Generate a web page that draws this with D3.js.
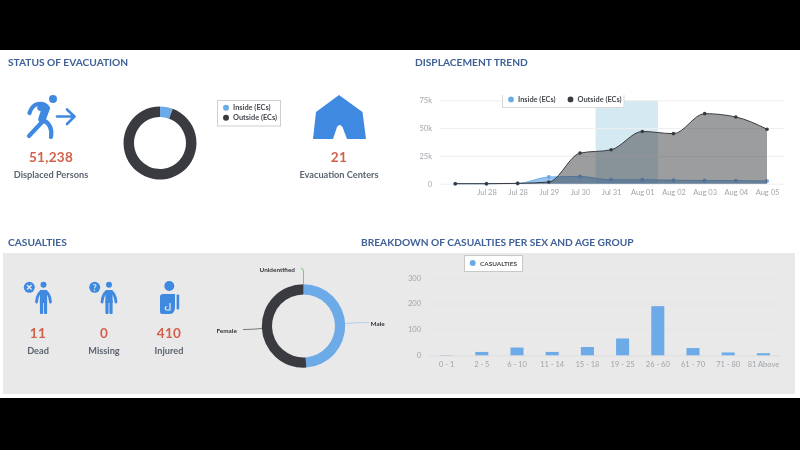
<!DOCTYPE html>
<html>
<head>
<meta charset="utf-8">
<script src="https://cdn.jsdelivr.net/npm/d3@7"></script>
<style>
  html, body { margin: 0; padding: 0; background: #000; }
  svg { display: block; font-family: Lato, "Open Sans", sans-serif; filter: blur(0.4px); }
  .title { fill: #3f6197; font-weight: 700; font-size: 10.2px; }
  .big { fill: #d2604a; font-weight: 700; font-size: 13.5px; text-anchor: middle; letter-spacing: .3px; }
  .sub { fill: #5b6470; font-weight: 700; font-size: 9.2px; text-anchor: middle; }
  .legend { fill: #45484d; font-weight: 700; font-size: 7.4px; }
  .tick text { fill: #a0a5aa; font-size: 7.5px; font-family: Lato, sans-serif; }
  .icon { fill: #3f8ae0; stroke: none; }
  .iconline { fill: none; stroke: #3f8ae0; stroke-linecap: round; stroke-linejoin: round; }
  .pielabel { fill: #33363a; font-weight: 700; font-size: 6.4px; }
</style>
</head>
<body>
<div id="chart"></div>
<script>
// ---- data
var evacNames = ["Inside (ECs)", "Outside (ECs)"];
var evacValues = [2900, 48338];

var trendLabels = ["", "Jul 28", "Jul 28", "Jul 29", "Jul 30", "Jul 31", "Aug 01", "Aug 02", "Aug 03", "Aug 04", "Aug 05"];
var insideValues = [0, 0, 200, 6000, 6500, 3500, 3500, 3200, 2800, 2700, 2500];
var outsideValues = [0, 0, 300, 1500, 27500, 30500, 47000, 45000, 63000, 60000, 49000];
var trendTicks = [0, 25000, 50000, 75000];
var bandRange = [4.5, 6.5]; // highlighted stretch of the trend, in point indexes

var sexNames = ["Male", "Female", "Unidentified"];
var sexValues = [206, 215, 0];

var ageGroups = ["0 - 1", "2 - 5", "6 - 10", "11 - 14", "15 - 18", "19 - 25", "26 - 60", "61 - 70", "71 - 80", "81 Above"];
var ageValues = [1, 13, 30, 13, 32, 65, 190, 28, 11, 8];
var ageTicks = [0, 100, 200, 300];

var blue = "#6dabe8", dark = "#3a3b40";

var svg = d3.select("#chart")
  .append("svg")
    .attr("width", 800)
    .attr("height", 450);

// page: black bars with white sheet and the grey casualties panel
svg.append("rect").attr("width", 800).attr("height", 450).attr("fill", "#000");
svg.append("rect").attr("y", 50).attr("width", 800).attr("height", 348).attr("fill", "#fff");
svg.append("rect").attr("x", 3).attr("y", 253).attr("width", 792).attr("height", 141).attr("fill", "#e9e9e9");

// section titles
function title(txt, x, y) {
  svg.append("text").attr("class", "title").attr("x", x).attr("y", y).text(txt);
}
title("STATUS OF EVACUATION", 8, 66);
title("DISPLACEMENT TREND", 415, 66);
title("CASUALTIES", 8, 246);
title("BREAKDOWN OF CASUALTIES PER SEX AND AGE GROUP", 361, 246);

function stat(num, label, x, yNum, yLabel) {
  svg.append("text").attr("class", "big").attr("x", x).attr("y", yNum).text(num);
  svg.append("text").attr("class", "sub").attr("x", x).attr("y", yLabel).text(label);
}
stat("51,238", "Displaced Persons", 51, 162, 178);
stat("21", "Evacuation Centers", 339, 162, 178);
stat("11", "Dead", 38, 338, 354);
stat("0", "Missing", 104, 338, 354);
stat("410", "Injured", 169, 338, 354);

// ---- icons
var runner = svg.append("g");
runner.append("circle").attr("class", "icon").attr("cx", 53).attr("cy", 99).attr("r", 4);
runner.append("path").attr("class", "iconline").attr("stroke-width", 4.2)
  .attr("d", "M29.5,113 Q32,105 38,104 Q45,103 48,108 L43,121 L29,136");
runner.append("path").attr("class", "iconline").attr("stroke-width", 7.5)
  .attr("d", "M41,107.500 L45.500,109 L42,119");
runner.append("path").attr("class", "iconline").attr("stroke-width", 4.2)
  .attr("d", "M43,120 Q53,125 51,137");
runner.append("path").attr("class", "iconline").attr("stroke-width", 2.6)
  .attr("d", "M57,116.5 L74,116.5 M67,109.5 L74.5,116.5 L67,124");

svg.append("path").attr("class", "icon")
  .attr("d", "M339,95 L362.5,112 L366,139 L347,139 L342.500,127 Q339.500,123 337,127 L333,139 L313,139 L316,112 Z");

function person(x) {
  var g = svg.append("g").attr("transform", "translate(" + x + ",0)");
  g.append("circle").attr("class", "icon").attr("cx", 0).attr("cy", 284.7).attr("r", 3);
  g.append("path").attr("class", "iconline").attr("stroke-width", 2.8)
    .attr("d", "M-7,302 Q-6,292 -1,291.500 L1,291.500 Q6,292 7,302");
  g.append("rect").attr("class", "icon").attr("x", -3.6).attr("y", 290).attr("width", 7.2).attr("height", 13);
  g.append("rect").attr("class", "icon").attr("x", -3.6).attr("y", 300).attr("width", 3.2).attr("height", 14).attr("rx", 1);
  g.append("rect").attr("class", "icon").attr("x", 0.4).attr("y", 300).attr("width", 3.2).attr("height", 14).attr("rx", 1);
}
person(43.5);
person(109);
svg.append("circle").attr("class", "icon").attr("cx", 29.3).attr("cy", 287.3).attr("r", 5.5);
svg.append("path").attr("fill", "none").attr("stroke", "#e9e9e9").attr("stroke-width", 1.4)
  .attr("d", "M27,285 L31.600,289.600 M31.600,285 L27,289.600");
svg.append("circle").attr("class", "icon").attr("cx", 94.7).attr("cy", 287.3).attr("r", 5.5);
svg.append("text").attr("x", 94.7).attr("y", 290.5).attr("text-anchor", "middle")
  .attr("fill", "#e9e9e9").attr("font-size", 8.5).attr("font-weight", 700).text("?");

svg.append("circle").attr("class", "icon").attr("cx", 169.3).attr("cy", 286).attr("r", 5);
svg.append("path").attr("class", "icon")
  .attr("d", "M163,294 L175,294 L175,306 Q175,314 170,314 L162,314 Q160,314 160,312 L160,297 Q160,294 163,294 Z");
svg.append("rect").attr("class", "icon").attr("x", 176.6).attr("y", 294.5).attr("width", 2.6).attr("height", 15).attr("rx", 1);
svg.append("path").attr("fill", "none").attr("stroke", "#e9e9e9").attr("stroke-width", 1.2)
  .attr("d", "M170,303 L170,310 L166,310 Q164,307 167,306.500");

// ---- evacuation donut
var evacPie = d3.pie().sort(null);
var evacArc = d3.arc().innerRadius(26).outerRadius(36.5);
svg.append("g")
  .attr("transform", "translate(160,143)")
  .selectAll("path")
  .data(evacPie(evacValues))
  .enter()
  .append("path")
    .attr("d", evacArc)
    .attr("fill", function(d, i) { return [blue, dark][i]; });

svg.append("rect").attr("x", 217.5).attr("y", 100.5).attr("width", 63).attr("height", 25.5)
  .attr("fill", "#fff").attr("stroke", "#cfcfcf");
evacNames.forEach(function(n, i) {
  svg.append("circle").attr("cx", 226).attr("cy", 107.7 + i * 10).attr("r", 3).attr("fill", [blue, dark][i]);
  svg.append("text").attr("class", "legend").attr("x", 233).attr("y", 110.4 + i * 10).text(n);
});

// ---- displacement trend
var x = d3.scalePoint()
  .domain(d3.range(trendLabels.length))
  .range([455.3, 767]);
var y = d3.scaleLinear()
  .domain([0, 75000])
  .range([183.7, 100.3]);

var xInv = d3.scaleLinear().domain([0, trendLabels.length - 1]).range([455.3, 767]);
svg.append("rect")
  .attr("x", xInv(bandRange[0]))
  .attr("y", y(75000))
  .attr("width", xInv(bandRange[1]) - xInv(bandRange[0]))
  .attr("height", y(0) - y(75000))
  .attr("fill", "#d5e9f3");

var yAxisG = svg.append("g")
  .attr("transform", "translate(440,0)")
  .call(d3.axisLeft(y).tickValues(trendTicks).tickSize(0).tickPadding(8)
    .tickFormat(function(d) { return d ? (d / 1000) + "k" : "0"; }));
yAxisG.select(".domain").remove();
yAxisG.selectAll(".tick line")
  .attr("x2", 344).attr("stroke", "#eeeeee");

var xAxisG = svg.append("g")
  .attr("transform", "translate(0,183.7)")
  .call(d3.axisBottom(x).tickSize(0).tickPadding(6)
    .tickFormat(function(d) { return trendLabels[d]; }));
xAxisG.select(".domain").remove();

function areaFor(vals) {
  return d3.area()
    .x(function(d, i) { return x(i); })
    .y0(y(0))
    .y1(function(d) { return y(d); })
    .curve(d3.curveMonotoneX)(vals);
}
function lineFor(vals) {
  return d3.line()
    .x(function(d, i) { return x(i); })
    .y(function(d) { return y(d); })
    .curve(d3.curveMonotoneX)(vals);
}

// inside goes under the outside area, that gives the dark blue stripe
svg.append("path").attr("d", areaFor(insideValues)).attr("fill", blue).attr("fill-opacity", 0.7);
svg.append("path").attr("d", lineFor(insideValues)).attr("fill", "none").attr("stroke", blue).attr("stroke-width", 1);

svg.selectAll(".dotIn")
  .data(insideValues)
  .enter()
  .append("circle")
    .attr("cx", function(d, i) { return x(i); })
    .attr("cy", function(d) { return y(d); })
    .attr("r", 2)
    .attr("fill", blue);

svg.append("path").attr("d", areaFor(outsideValues)).attr("fill", dark).attr("fill-opacity", 0.5);
svg.append("path").attr("d", lineFor(outsideValues)).attr("fill", "none").attr("stroke", dark).attr("stroke-width", 1);
svg.selectAll(".dotOut")
  .data(outsideValues)
  .enter()
  .append("circle")
    .attr("cx", function(d, i) { return x(i); })
    .attr("cy", function(d) { return y(d); })
    .attr("r", 1.8)
    .attr("fill", dark);

// legend of the trend, cut off at its top edge by the chart frame
svg.append("path")
  .attr("d", "M502.500,95 L502.500,107.500 L624,107.500 L624,95 Z")
  .attr("fill", "#fff");
svg.append("path")
  .attr("d", "M502.500,95 L502.500,107.500 L624,107.500 L624,95")
  .attr("fill", "none").attr("stroke", "#d9d9d9");
[["Inside (ECs)", blue, 511], ["Outside (ECs)", dark, 570.5]].forEach(function(l) {
  svg.append("circle").attr("cx", l[2]).attr("cy", 99.4).attr("r", 2.9).attr("fill", l[1]);
  svg.append("text").attr("class", "legend").attr("x", l[2] + 7).attr("y", 102).text(l[0]);
});

// ---- casualties donut
var sexPie = d3.pie().sort(null);
var sexArcs = sexPie(sexValues);
var sexArc = d3.arc().innerRadius(31.5).outerRadius(41.7);
var sexG = svg.append("g").attr("transform", "translate(303.500,326)");
sexG.selectAll("path")
  .data(sexArcs)
  .enter()
  .append("path")
    .attr("d", sexArc)
    .attr("fill", function(d, i) { return [blue, dark, "#7cc47c"][i]; });

svg.append("path").attr("d", "M345.500,323.500 Q358,322.500 369,322.500").attr("fill", "none").attr("stroke", "#a9c6e4").attr("stroke-width", 0.8);
svg.append("path").attr("d", "M262,328.500 Q252,329.500 243,329.500").attr("fill", "none").attr("stroke", "#55575c").attr("stroke-width", 0.8);
svg.append("path").attr("d", "M303.500,284 L303.500,272 Q303.500,268 301,268").attr("fill", "none").attr("stroke", "#6fd06f").attr("stroke-width", 1);
svg.append("text").attr("class", "pielabel").attr("x", 370.5).attr("y", 326).text(sexNames[0]);
svg.append("text").attr("class", "pielabel").attr("x", 216.5).attr("y", 333).text(sexNames[1]);
svg.append("text").attr("class", "pielabel").attr("x", 259.5).attr("y", 271.5).text(sexNames[2]);

// ---- age group bars
var xBar = d3.scaleBand()
  .domain(ageGroups)
  .range([429, 781])
  .paddingInner(0.63)
  .paddingOuter(0.315);
var yBar = d3.scaleLinear()
  .domain([0, 300])
  .range([355.3, 277.7]);

var yBarG = svg.append("g")
  .attr("transform", "translate(429,0)")
  .call(d3.axisLeft(yBar).tickValues(ageTicks).tickSize(0).tickPadding(8));
yBarG.select(".domain").remove();
yBarG.selectAll(".tick line").attr("x2", 352).attr("stroke", "#e4e4e4");

var xBarG = svg.append("g")
  .attr("transform", "translate(0,355.3)")
  .call(d3.axisBottom(xBar).tickSize(0).tickPadding(6));
xBarG.select(".domain").attr("stroke", "#e0e0e0");

svg.selectAll(".bar")
  .data(ageValues)
  .enter()
  .append("rect")
    .attr("x", function(d, i) { return xBar(ageGroups[i]); })
    .attr("y", function(d) { return yBar(d); })
    .attr("width", xBar.bandwidth())
    .attr("height", function(d) { return yBar(0) - yBar(d); })
    .attr("fill", blue);

svg.append("rect").attr("x", 464.500).attr("y", 255.500).attr("width", 58).attr("height", 16)
  .attr("fill", "#fff").attr("stroke", "#c8c8c8");
svg.append("circle").attr("cx", 472.7).attr("cy", 263).attr("r", 3).attr("fill", blue);
svg.append("text").attr("class", "legend").attr("x", 480).attr("y", 266).style("font-size", "6.4px").text("CASUALTIES");
</script>
</body>
</html>
